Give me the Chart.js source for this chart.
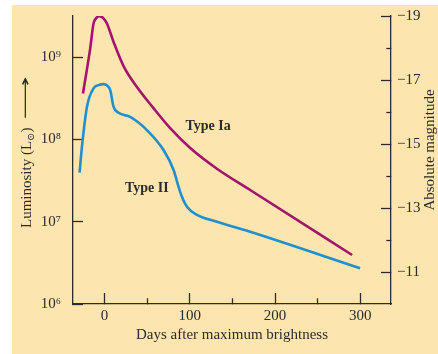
<!DOCTYPE html>
<html>
<head>
<meta charset="utf-8">
<script src="https://cdn.jsdelivr.net/npm/chart.js@4.4.1/dist/chart.umd.min.js"></script>
<style>
  html, body { margin: 0; padding: 0; background: #fff; }
  #wrap { position: relative; width: 438px; height: 354px; }
  #bg { position: absolute; left: 12px; top: 5px; right: 0; bottom: 0; background: #fde5b0; }
  canvas { position: absolute; left: 0; top: 0; }
</style>
</head>
<body>
<div id="wrap"><div id="bg"></div><canvas id="chart" width="438" height="354"></canvas></div>
<script>
// light curves: days after maximum, luminosity in solar units
const iaDays = [-25.3, -16.8, -12.9, -9.7, -5.9, -1.5, 2.8, 10.6, 22.3, 38, 57.4, 77, 100.5, 132.2, 170.8, 290.4];
const iaLum  = [3.62e8, 1.28e9, 2.56e9, 2.98e9, 3.15e9, 2.98e9, 2.56e9, 1.53e9, 7.78e8, 4.33e8, 2.40e8, 1.37e8, 7.85e7, 4.37e7, 2.43e7, 3.94e6];

const iiDays = [-29.3, -26.5, -20.6, -12.9, -7, -1.2, 3, 6.7, 10.6, 16.4, 30.1, 49.7, 69.2, 81, 86.8, 90.8, 96.7, 108.4, 131.8, 170.8, 299.7];
const iiLum  = [3.94e7, 8.15e7, 2.49e8, 4.17e8, 4.57e8, 4.70e8, 4.52e8, 3.97e8, 2.49e8, 2.11e8, 1.88e8, 1.30e8, 7.43e7, 4.25e7, 2.66e7, 2.01e7, 1.52e7, 1.21e7, 1.00e7, 7.55e6, 2.72e6];

// axis ticks
const dayTicks = [0, 100, 200, 300];
const dayMinorTicks = [50, 150, 250];
const lumTicks = [1e6, 1e7, 1e8, 1e9];
const lumTickLabels = ['10\u2076', '10\u2077', '10\u2078', '10\u2079'];
const magTicks = [-19, -17, -15, -13, -11];
const magMinorTicks = [-18, -16, -14, -12];

// curve labels, anchored in data coordinates
const notes = [
  { text: 'Type Ia', day: 95, lum: 1.3e8 },
  { text: 'Type II', day: 24, lum: 2.3e7 }
];

const serif = "'Liberation Serif', 'DejaVu Serif', serif";
const ink = '#2b2b2b';

function tickSet(values) {
  return values.slice().sort((a, b) => a - b).map(v => ({ value: v }));
}

function points(xs, ys) {
  return xs.map((x, i) => ({ x: x, y: ys[i] }));
}

// fixed axis box, no extra room for overhanging labels
function fixSize(size) {
  return function(s) {
    if (s.isHorizontal()) s.height = size; else s.width = size;
    s.paddingTop = s.paddingBottom = s.paddingLeft = s.paddingRight = 0;
  };
}

const textLayer = {
  id: 'textLayer',
  afterDraw: function(chart) {
    const ctx = chart.ctx;
    const area = chart.chartArea;
    const sx = chart.scales.x;
    const sy = chart.scales.y;
    ctx.save();
    ctx.fillStyle = ink;
    ctx.textBaseline = 'alphabetic';

    ctx.font = '15px ' + serif;
    ctx.textAlign = 'center';
    ctx.fillText('Days after maximum brightness', (area.left + area.right) / 2, 339);

    ctx.save();
    ctx.translate(434, 150);
    ctx.rotate(-Math.PI / 2);
    ctx.fillText('Absolute magnitude', 0, 0);
    ctx.restore();

    // left title, with a subscript sun symbol and a long arrow
    ctx.save();
    ctx.translate(31, 228);
    ctx.rotate(-Math.PI / 2);
    ctx.textAlign = 'left';
    let pos = 0;
    const part1 = 'Luminosity (L';
    ctx.fillText(part1, pos, 0);
    pos += ctx.measureText(part1).width;
    ctx.font = '10px ' + serif;
    ctx.fillText('\u2299', pos, 3);
    pos += ctx.measureText('\u2299').width;
    ctx.font = '15px ' + serif;
    ctx.fillText(')', pos, 0);
    pos += ctx.measureText(')').width + 8;
    ctx.save();
    ctx.translate(pos, 0);
    ctx.scale(2, 1);
    ctx.font = "15px 'DejaVu Sans', sans-serif";
    ctx.fillText('\u27F6', 0, -1);
    ctx.restore();
    ctx.restore();

    ctx.font = 'bold 14px ' + serif;
    ctx.textAlign = 'left';
    notes.forEach(n => {
      ctx.fillText(n.text, sx.getPixelForValue(n.day), sy.getPixelForValue(n.lum));
    });
    ctx.restore();
  }
};

new Chart(document.getElementById('chart'), {
  type: 'line',
  data: {
    datasets: [
      {
        label: 'Type Ia',
        data: points(iaDays, iaLum),
        borderColor: '#a2146d',
        borderWidth: 2.6,
        pointRadius: 0,
        fill: false,
        cubicInterpolationMode: 'monotone',
        yAxisID: 'y'
      },
      {
        label: 'Type II',
        data: points(iiDays, iiLum),
        borderColor: '#1f8fd0',
        borderWidth: 2.6,
        pointRadius: 0,
        fill: false,
        cubicInterpolationMode: 'monotone',
        yAxisID: 'y'
      }
    ]
  },
  options: {
    responsive: false,
    animation: false,
    layout: { padding: { top: 16 } },
    plugins: {
      legend: { display: false },
      tooltip: { enabled: false }
    },
    scales: {
      x: {
        type: 'linear',
        position: 'bottom',
        min: -37,
        max: 336,
        afterBuildTicks: s => { s.ticks = tickSet(dayTicks.concat(dayMinorTicks)); },
        afterFit: fixSize(50),
        ticks: {
          autoSkip: false,
          maxRotation: 0,
          padding: 14,
          color: ink,
          font: { family: serif, size: 15 },
          callback: v => dayTicks.includes(v) ? String(v) : ''
        },
        grid: {
          drawOnChartArea: false,
          tickLength: -11,
          tickColor: ink,
          tickWidth: 1.3,
          tickBorderDash: c => (c.tick && dayMinorTicks.includes(c.tick.value)) ? [6, 40] : []
        },
        border: { color: ink, width: 1.3 }
      },
      y: {
        type: 'logarithmic',
        position: 'left',
        min: 1e6,
        max: 3.162e9,
        afterBuildTicks: s => { s.ticks = tickSet(lumTicks); },
        afterFit: fixSize(73),
        ticks: {
          padding: 22,
          color: ink,
          font: { family: serif, size: 15 },
          callback: (v, i) => lumTickLabels[i]
        },
        grid: {
          drawOnChartArea: false,
          tickLength: -10,
          tickColor: ink,
          tickWidth: 1.3
        },
        border: { color: ink, width: 1.3 }
      },
      mag: {
        type: 'linear',
        position: 'right',
        min: -19,
        max: -10,
        reverse: true,
        afterBuildTicks: s => { s.ticks = tickSet(magTicks.concat(magMinorTicks)); },
        afterFit: fixSize(47),
        ticks: {
          padding: 16,
          color: ink,
          font: { family: serif, size: 15 },
          callback: v => magTicks.includes(v) ? '\u2212' + Math.abs(v) : ''
        },
        grid: {
          drawOnChartArea: false,
          tickLength: -10,
          tickColor: ink,
          tickWidth: 1.3,
          tickBorderDash: c => (c.tick && magMinorTicks.includes(c.tick.value)) ? [5, 40] : []
        },
        border: { color: ink, width: 1.3 }
      }
    }
  },
  plugins: [textLayer]
});
</script>
</body>
</html>
